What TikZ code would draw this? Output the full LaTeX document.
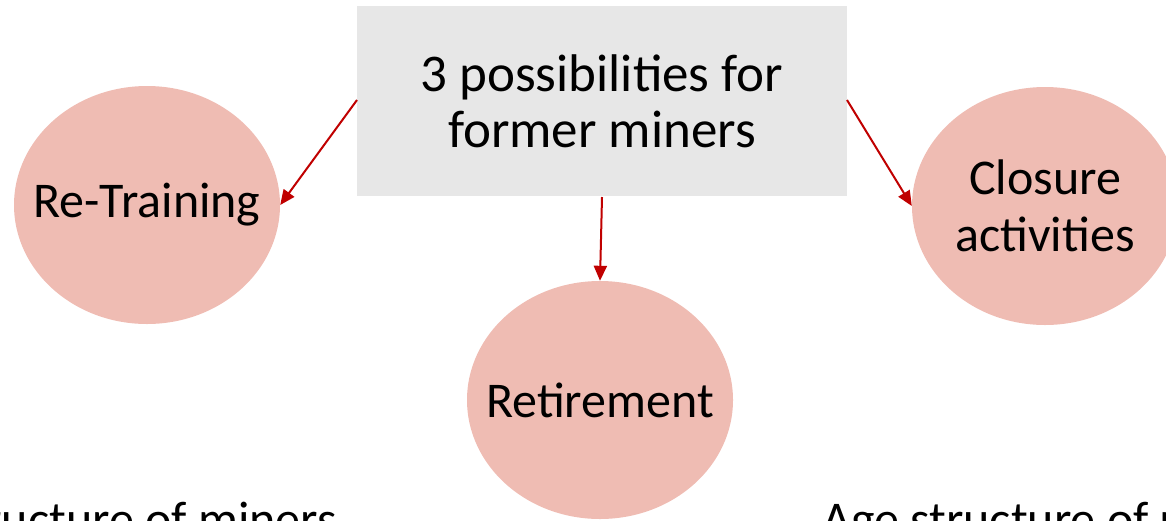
\documentclass[tikz,border=0pt]{standalone}
\usepackage{fontspec}
\setmainfont{Carlito}
\usetikzlibrary{arrows.meta,shapes.geometric}
\definecolor{boxgray}{HTML}{E7E7E7}
\definecolor{ovalpink}{HTML}{EFBCB3}
\definecolor{arrowred}{HTML}{C00000}
\tikzset{
  oval/.style={ellipse, fill=ovalpink, minimum width=266pt, minimum height=238pt, inner sep=-50pt, align=center, font=\fontsize{50}{57}\selectfont},
  conn/.style={draw=arrowred, line width=2pt, -{Triangle[length=15pt,width=13pt]}},
  bottomtext/.style={font=\fontsize{50}{57}\selectfont, inner sep=0pt}
}
\begin{document}
\begin{tikzpicture}[x=1pt,y=-1pt]
\useasboundingbox (0,0) rectangle (1166,520);
\clip (0,0) rectangle (1166,520);
\node[fill=boxgray, minimum width=490pt, minimum height=190pt, inner sep=0pt, align=center, font=\fontsize{53}{56}\selectfont] (box) at (602,101) {3 possibilities for\\former miners};
\node[oval] (retrain) at (147,205) {Re-Training};
\node[oval] (retire) at (600,400) {Retirement};
\node[oval] (closure) at (1045,206) {Closure\\activities};
\coordinate (bl) at (357,100);
\coordinate (br) at (847,100);
\coordinate (bb) at (602,197);
\draw[conn] (bl) -- (retrain.east);
\draw[conn] (bb) -- (retire.north);
\draw[conn] (br) -- (closure.west);
\node[bottomtext, anchor=base east] (ageleft) at (337,536) {Age structure of miners};
\node[bottomtext, anchor=base west] (ageright) at (822,536) {Age structure of miners};
\end{tikzpicture}
\end{document}
